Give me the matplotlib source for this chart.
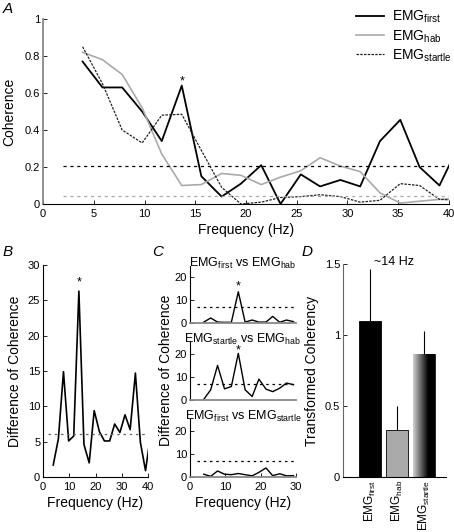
import numpy as np
import matplotlib
matplotlib.use('Agg')
from matplotlib import pyplot as plt

plt.rcParams['font.family'] = ['Liberation Sans', 'DejaVu Sans']
plt.rcParams['mathtext.fontset'] = 'custom'
plt.rcParams['mathtext.rm'] = 'Liberation Sans'
plt.rcParams['mathtext.it'] = 'Liberation Sans:italic'

# frequency bins (Hz)
freq = [3.9, 5.86, 7.8, 9.77, 11.7, 13.67, 15.6, 17.6, 19.5, 21.5,
        23.4, 25.4, 27.3, 29.3, 31.25, 33.2, 35.2, 37.1, 39.06, 41.0]

# panel A: coherence
coh_first = [0.77, 0.63, 0.63, 0.50, 0.34, 0.64, 0.15, 0.04, 0.11, 0.21,
             0.0, 0.16, 0.095, 0.13, 0.095, 0.34, 0.455, 0.20, 0.10, 0.32]
coh_hab = [0.82, 0.78, 0.70, 0.52, 0.27, 0.10, 0.105, 0.165, 0.155, 0.105,
           0.145, 0.18, 0.25, 0.205, 0.175, 0.06, 0.005, 0.015, 0.025, 0.03]
coh_startle = [0.85, 0.65, 0.40, 0.33, 0.48, 0.485, 0.29, 0.09, 0.0, 0.01,
               0.035, 0.04, 0.05, 0.04, 0.01, 0.02, 0.11, 0.10, 0.025, 0.02]
conf_first = 0.205
conf_hab = 0.045

# panel B: difference of coherence
diff_all = [1.7, 5.4, 14.9, 5.1, 5.8, 26.3, 4.6, 2.0, 9.4, 6.4,
            5.1, 5.1, 7.5, 6.3, 8.8, 6.7, 14.7, 4.9, 0.9, 6.0]
conf_b = 6.1

# panel C: pairwise differences (first 14 bins)
diff_first_hab = [0.4, 2.2, 0.4, 0.3, 0.3, 13.7, 0.4, 1.3, 0.4, 0.4, 2.9, 0.3, 1.3, 0.6]
diff_startle_hab = [0.3, 4.4, 14.9, 4.8, 5.8, 20.1, 4.4, 1.5, 9.0, 4.7, 3.6, 5.1, 7.3, 6.6]
diff_first_startle = [1.2, 0.3, 2.6, 1.2, 1.0, 1.5, 1.0, 0.5, 2.0, 3.9, 0.6, 1.4, 0.5, 0.6]
conf_c = 6.8

# panel D: transformed coherency at ~14 Hz
conds = [r'EMG$_{\rm first}$', r'EMG$_{\rm hab}$', r'EMG$_{\rm startle}$']
tc_mean = [1.10, 0.334, 0.864]
tc_err = [0.365, 0.166, 0.166]

W, H = 454, 532
fig = plt.figure(figsize=(W / 100, H / 100), dpi=100)


def rect(l, t, r, b):
    return [l / W, 1 - b / H, (r - l) / W, (b - t) / H]


def style(ax, spine='black'):
    for s in ['top', 'right']:
        ax.spines[s].set_visible(False)
    ax.spines['left'].set_color(spine)
    ax.spines['bottom'].set_color(spine)
    ax.tick_params(direction='in', labelsize=8, length=3, width=0.6)
    ax.tick_params(axis='y', pad=2)


# ---- A ----
ax = fig.add_axes(rect(43, 19, 449, 204))
style(ax)
ax.spines['left'].set_color('#888888')
ax.spines['left'].set_linewidth(1.3)
ax.plot(freq, coh_first, color='black', lw=1.3, label=conds[0])
ax.plot(freq, coh_hab, color='#aaaaaa', lw=1.2, label=conds[1])
ax.plot(freq, coh_startle, color='#222222', lw=0.9, ls=(0, (2, 1)), label=conds[2])
ax.plot([2, 40], [conf_first] * 2, color='black', lw=0.9, ls=(0, (2.5, 3)))
ax.plot([2, 40], [conf_hab] * 2, color='#aaaaaa', lw=0.9, ls=(0, (2.5, 3)))
ax.text(13.67, 0.66, '*', ha='center', va='center', fontsize=9)
ax.set_xlim(0, 40)
ax.set_ylim(0, 1)
ax.set_xticks(range(0, 41, 5))
ax.set_yticks([0, 0.2, 0.4, 0.6, 0.8, 1])
ax.set_yticklabels(['0', '0.2', '0.4', '0.6', '0.8', '1'])
ax.set_xlabel('Frequency (Hz)', fontsize=10, labelpad=3)
ax.set_ylabel('Coherence', fontsize=10, labelpad=6)
ax.legend(loc='upper left', bbox_to_anchor=(356 / W, 1 - 9 / H), bbox_transform=fig.transFigure,
          frameon=False, fontsize=10, handlelength=2.0, labelspacing=0.2, handletextpad=0.6,
          borderaxespad=0, borderpad=0)

# ---- B ----
ax = fig.add_axes(rect(43, 265, 148, 477))
style(ax)
ax.plot(freq, diff_all, color='black', lw=1.2)
ax.plot([2, 40], [conf_b] * 2, color='#666666', lw=0.9, ls=(0, (2, 3)))
ax.text(13.67, 27.5, '*', ha='center', va='center', fontsize=9)
ax.set_xlim(0, 40)
ax.set_ylim(0, 30)
ax.set_xticks([0, 10, 20, 30, 40])
ax.set_yticks(range(0, 31, 5))
ax.set_xlabel('Frequency (Hz)', fontsize=10, labelpad=3)
ax.set_ylabel('Difference of Coherence', fontsize=10, labelpad=4)

# ---- C ----
c_data = [diff_first_hab, diff_startle_hab, diff_first_startle]
c_titles = [r'EMG$_{\rm first}$ vs EMG$_{\rm hab}$',
            r'EMG$_{\rm startle}$ vs EMG$_{\rm hab}$',
            r'EMG$_{\rm first}$ vs EMG$_{\rm startle}$']
c_star = [16.0, 21.3, None]
c_rects = [(190, 266, 296, 323), (190, 342, 296, 400), (190, 419, 296, 477)]
for i in range(3):
    l, t, r, b = c_rects[i]
    ax = fig.add_axes(rect(l, t, r, b))
    style(ax)
    ax.spines['bottom'].set_color('#888888')
    ax.spines['bottom'].set_linewidth(1.3)
    ax.plot(freq[:14], c_data[i], color='black', lw=1.0)
    ax.plot([2, 30], [conf_c] * 2, color='black', lw=0.9, ls=(0, (2, 3)))
    if c_star[i] is not None:
        ax.text(13.67, c_star[i], '*', ha='center', va='center', fontsize=9)
    ax.set_xlim(0, 30)
    ax.set_ylim(0, 25)
    ax.set_yticks([0, 10, 20])
    ax.set_xticks([0, 10, 20, 30])
    if i < 2:
        ax.tick_params(axis='x', length=0, labelbottom=False)
    else:
        ax.set_xlabel('Frequency (Hz)', fontsize=10, labelpad=3)
    ax.set_title(c_titles[i], fontsize=9, y=1.0, pad=-1)
fig.text(166 / W, 1 - 370 / H, 'Difference of Coherence', rotation=90,
         ha='center', va='center', fontsize=10)

# ---- D ----
ax = fig.add_axes(rect(343, 264, 446, 477))
style(ax)
ax.spines['left'].set_color('#666666')
xpos = np.arange(1, 4)
colors = ['black', '#aaaaaa', 'none']
bars = ax.bar(xpos, tc_mean, width=0.8, color=colors, edgecolor='black', lw=0.6)
# gradient fill of the third bar
grad = np.concatenate([np.linspace(0.82, 0.0, 70), np.zeros(30)])[None, :]
b3 = bars[2]
ax.imshow(grad, cmap='gray', vmin=0, vmax=1, aspect='auto',
          extent=[b3.get_x(), b3.get_x() + b3.get_width(), 0, b3.get_height()], zorder=1)
ax.vlines(xpos, tc_mean, np.array(tc_mean) + np.array(tc_err), color='black', lw=0.8)
ax.set_xlim(0, 3.8)
ax.set_ylim(0, 1.5)
ax.set_yticks([0, 0.5, 1, 1.5])
ax.set_yticklabels(['0', '0.5', '1', '1.5'])
ax.set_xticks(xpos)
ax.set_xticklabels(conds, rotation=90, fontsize=8.5)
ax.tick_params(axis='x', length=0, pad=2)
ax.set_ylabel('Transformed Coherency', fontsize=10, labelpad=4)
ax.set_title('~14 Hz', fontsize=9, y=1.0, pad=-1)

# panel letters
for lab, x, y in [('A', 3, 2), ('B', 3, 245), ('C', 152, 245), ('D', 302, 245)]:
    fig.text(x / W, 1 - y / H, lab, fontsize=11, style='italic', ha='left', va='top')

fig.savefig('out.png', dpi=100)
